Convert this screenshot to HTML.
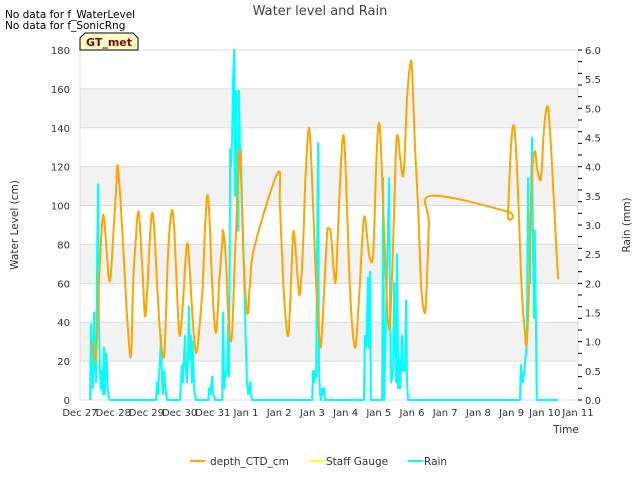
<!DOCTYPE html>
<html><head><meta charset="utf-8"><style>
body{margin:0;background:#fff;font-family:"Liberation Sans",sans-serif}
svg text{font-family:"DejaVu Sans","Liberation Sans",sans-serif}
</style></head><body>
<svg id="chart" width="640" height="480" xmlns="http://www.w3.org/2000/svg">
<text x="5" y="18" font-size="10.5" fill="#000">No data for f_WaterLevel</text>
<text x="5" y="29" font-size="10.5" fill="#000">No data for f_SonicRng</text>
<text x="320" y="15" font-size="13" fill="#444" text-anchor="middle">Water level and Rain</text>
<g id="bands"></g>
<g id="grid"></g>
<g id="series"></g>
<g id="axes"></g>
<g>
<path d="M80,50 L80,38 L85,33 L133,33 L138,38 L138,50 Z" fill="#ffffc8" stroke="#000" stroke-width="1"/>
<text x="109" y="46" font-size="11" font-weight="bold" fill="#8b0000" text-anchor="middle">GT_met</text>
</g>
<text x="566" y="433" font-size="10.5" fill="#333" text-anchor="middle">Time</text>
<text transform="translate(18,225) rotate(-90)" font-size="10.5" fill="#333" text-anchor="middle">Water Level (cm)</text>
<text transform="translate(630,225) rotate(-90)" font-size="10.5" fill="#333" text-anchor="middle">Rain (mm)</text>
<g>
<g><line x1="190" y1="461" x2="205" y2="461" stroke="#ffa500" stroke-width="2"/><text x="210" y="465" font-size="10.5" fill="#333">depth_CTD_cm</text></g>
<g><line x1="310" y1="461" x2="325" y2="461" stroke="#ffff33" stroke-width="2"/><text x="326" y="465" font-size="10.5" fill="#333">Staff Gauge</text></g>
<g><line x1="408" y1="461" x2="423" y2="461" stroke="#00ffff" stroke-width="2"/><text x="424" y="465" font-size="10.5" fill="#333">Rain</text></g>
</g>
</svg>
<script>
const xTickLabels=["Dec 27","Dec 28","Dec 29","Dec 30","Dec 31","Jan 1","Jan 2","Jan 3","Jan 4","Jan 5","Jan 6","Jan 7","Jan 8","Jan 9","Jan 10","Jan 11"];
const yLeftTicks=[0,20,40,60,80,100,120,140,160,180];
const yRightTicks=["0.0","0.5","1.0","1.5","2.0","2.5","3.0","3.5","4.0","4.5","5.0","5.5","6.0"];
const depthDays=[0.33,0.39,0.48,0.57,0.69,0.81,0.87,0.93,1.02,1.11,1.14,1.23,1.36,1.45,1.54,1.60,1.69,1.75,1.81,1.90,1.96,2.02,2.11,2.17,2.23,2.32,2.41,2.50,2.56,2.65,2.74,2.80,2.86,2.95,3.01,3.10,3.19,3.25,3.31,3.40,3.46,3.52,3.61,3.70,3.77,3.83,3.89,3.98,4.07,4.13,4.19,4.28,4.31,4.40,4.46,4.52,4.58,4.67,4.73,4.79,4.85,4.91,5.00,5.06,5.12,5.27,5.96,6.02,6.14,6.26,6.33,6.42,6.48,6.57,6.63,6.72,6.78,6.87,6.93,7.02,7.11,7.20,7.26,7.35,7.44,7.50,7.56,7.65,7.71,7.80,7.89,7.95,8.01,8.10,8.19,8.28,8.34,8.43,8.52,8.58,8.67,8.73,8.83,8.92,8.98,9.04,9.13,9.22,9.28,9.34,9.43,9.52,9.58,9.64,9.73,9.79,9.85,9.94,10.00,10.09,10.18,10.27,10.36,10.42,10.51,10.57,12.86,12.89,12.98,13.07,13.16,13.25,13.31,13.40,13.46,13.55,13.61,13.70,13.76,13.82,13.89,13.98,14.07,14.13,14.22,14.31,14.40];
const depthValues=[30,25,22,60,95,75,62,65,90,115,120,100,60,35,23,60,85,97,88,60,43,55,85,96,90,60,35,22,30,75,95,96,80,45,33,50,75,80,65,40,28,25,40,60,90,105,97,60,36,40,60,80,87,70,45,32,35,75,100,128,115,80,50,45,60,80,117,100,55,33,50,85,80,60,55,80,110,137,135,100,60,35,28,55,85,88,85,65,63,100,130,135,115,70,40,27,35,60,88,94,80,73,75,120,140,138,100,60,40,40,80,130,135,125,115,130,155,172,170,130,100,60,46,50,90,105,97,95,130,141,120,80,55,35,30,70,115,128,120,115,115,140,151,145,120,90,62];
const rainDays=[0.30,0.33,0.36,0.39,0.42,0.45,0.48,0.51,0.54,0.57,0.60,0.63,0.66,0.69,0.72,0.75,0.78,0.81,0.84,0.90,2.29,2.32,2.35,2.41,2.44,2.47,2.50,2.53,2.56,2.59,2.62,3.01,3.04,3.07,3.10,3.13,3.16,3.19,3.22,3.25,3.28,3.31,3.34,3.37,3.40,3.43,3.46,3.49,3.86,3.89,3.92,3.98,4.01,4.07,4.28,4.31,4.34,4.37,4.43,4.46,4.49,4.52,4.55,4.58,4.61,4.64,4.67,4.70,4.73,4.76,4.79,4.82,4.85,4.88,4.91,4.94,4.97,5.00,5.03,5.06,5.12,5.15,5.18,6.99,7.02,7.05,7.08,7.11,7.17,7.20,7.23,7.26,7.29,7.32,7.35,7.38,8.55,8.58,8.61,8.64,8.67,8.70,8.73,8.76,9.10,9.13,9.16,9.31,9.34,9.37,9.43,9.46,9.49,9.52,9.55,9.58,9.61,9.64,9.70,9.73,9.79,9.82,9.85,9.88,13.25,13.28,13.31,13.34,13.40,13.46,13.49,13.55,13.61,13.67,13.70,13.76,14.40];
const rainValues=[0,1.3,0.6,0.2,1.5,0.6,0.3,2.0,3.7,1.3,0.5,0.2,0.5,0.1,0.9,0.1,0.8,0.6,0.1,0,0,0.3,0.1,0.7,1.1,0.3,0.1,0.5,0.3,0.1,0,0,0.3,0.6,0.3,0.7,1.1,0.5,0.3,0.7,1.6,0.7,1.1,0.3,1.0,0.2,0.1,0,0,0.2,0.1,0.4,0.1,0,0,1.5,0.2,0.4,0.5,1.3,0.4,4.3,4.0,4.5,5.5,6.0,3.5,5.3,3.5,2.9,5.3,4.2,4.3,3.3,2.9,2.2,1.5,0.8,0.3,0.1,0.3,0.1,0,0,0.5,0.3,0.5,0.4,4.4,0.5,0.1,0,0.2,0.1,0.2,0,0,1.1,0.9,1.1,2.1,0.9,2.2,0,0,3.8,0,3.8,1.3,0.3,0.5,2.0,1.0,0.3,2.5,0.2,0.7,0.2,1.1,0.5,0.5,1.7,0.3,0,0,0.6,0.4,0.3,0.6,1.0,3.8,2.0,4.5,1.4,2.9,0,0];

const NS="http://www.w3.org/2000/svg";
const L=80,R=578,T=50,B=400;
const xS=d=>L+d*(R-L)/15;
const yL=v=>B-v*(B-T)/180;
const yR=v=>B-v*(B-T)/6;
function mk(tag,attrs,parent){const e=document.createElementNS(NS,tag);for(const k in attrs)e.setAttribute(k,attrs[k]);document.getElementById(parent).appendChild(e);return e;}

for(let i=0;i<yLeftTicks.length-1;i++){
  if(i%2===1){const b=mk('rect',{x:L,y:yL(yLeftTicks[i+1]),width:R-L,height:yL(yLeftTicks[i])-yL(yLeftTicks[i+1]),fill:'#f2f2f2'},'bands');
  
  }
}
yLeftTicks.forEach(v=>{
  const g=mk('line',{x1:L,x2:R,y1:yL(v),y2:yL(v),stroke:'#dcdcdc','stroke-width':1},'grid');
  
  
  const t=mk('text',{x:L-10,y:yL(v)+4,'font-size':10,fill:'#333','text-anchor':'end'},'axes');
  t.textContent=v;
  
  
});
mk('line',{x1:L,x2:L,y1:T,y2:B,stroke:'#dcdcdc'},'grid');
mk('line',{x1:R,x2:R,y1:T,y2:B,stroke:'#dcdcdc'},'grid');
for(let i=0;i<=30;i++){
  mk('line',{x1:R,x2:R+4,y1:yR(i*0.2),y2:yR(i*0.2),stroke:'#000','stroke-width':1},'axes');
}
yRightTicks.forEach(s=>{
  const t=mk('text',{x:R+7,y:yR(parseFloat(s))+4,'font-size':10,fill:'#333'},'axes');
  t.textContent=s;
  
  
});
xTickLabels.forEach((s,i)=>{
  const t=mk('text',{x:xS(i),y:416,'font-size':10,fill:'#333','text-anchor':'middle'},'axes');
  t.textContent=s;
  
  
});
const rp=rainDays.map((d,i)=>xS(d).toFixed(1)+','+yR(rainValues[i]).toFixed(1)).join(' ');
const rl=mk('polyline',{points:rp,fill:'none',stroke:'#00ffff','stroke-width':2,'stroke-linejoin':'round'},'series');


const pts=depthDays.map((d,i)=>[xS(d),yL(depthValues[i])]);
let dstr='M'+pts[0][0].toFixed(1)+','+pts[0][1].toFixed(1);
for(let i=0;i<pts.length-1;i++){
  const p0=pts[Math.max(0,i-1)],p1=pts[i],p2=pts[i+1],p3=pts[Math.min(pts.length-1,i+2)];
  const c1x=p1[0]+(p2[0]-p0[0])/6,c1y=p1[1]+(p2[1]-p0[1])/6;
  const c2x=p2[0]-(p3[0]-p1[0])/6,c2y=p2[1]-(p3[1]-p1[1])/6;
  dstr+=' C'+c1x.toFixed(1)+','+c1y.toFixed(1)+' '+c2x.toFixed(1)+','+c2y.toFixed(1)+' '+p2[0].toFixed(1)+','+p2[1].toFixed(1);
}
const dl=mk('path',{d:dstr,fill:'none',stroke:'#ffa500','stroke-width':2,'stroke-linejoin':'round'},'series');


</script>
</body></html>
